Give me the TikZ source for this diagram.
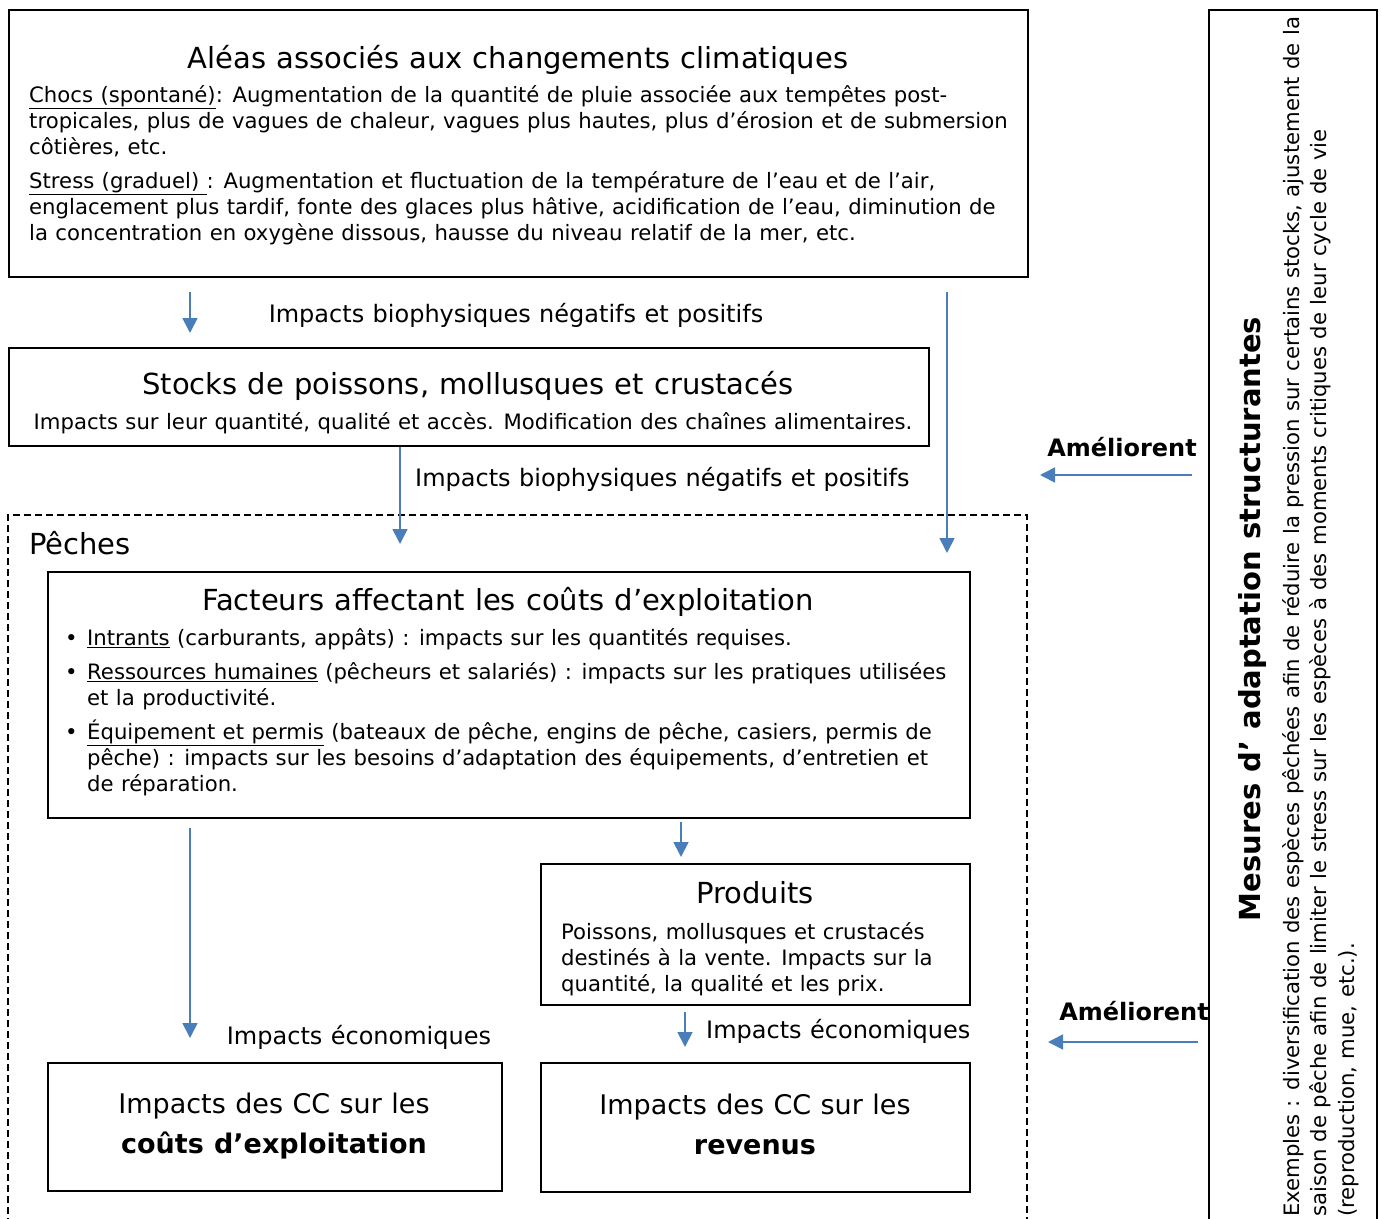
\documentclass[tikz,border=0pt]{standalone}
\usepackage{fontspec}
\setmainfont[WordSpace = 1.1]{DejaVu Sans}
\usetikzlibrary{arrows.meta}
\definecolor{flowblue}{RGB}{74,126,187}

\begin{document}
\begin{tikzpicture}[x = 1pt, y = -1pt,
                    box/.style = {draw, line width = 1.8pt, anchor = north west, inner sep = 0pt},
                    flow/.style = {draw = flowblue, line width = 1.7pt, -{Triangle[length = 15pt, width = 15pt]}},
                    boxtitle/.style = {font = \fontsize{29}{34}\selectfont, inner sep = 0pt, anchor = base},
                    boxtext/.style = {font = \fontsize{21.2}{26}\selectfont, inner sep = 0pt, align = left, anchor = north west},
                    flowlabel/.style = {font = \fontsize{24}{28}\selectfont, inner sep = 0pt, anchor = base},
                    impact/.style = {font = \fontsize{27}{40}\selectfont, inner sep = 0pt, align = center, anchor = north}]
      \useasboundingbox (0, 0) rectangle (1381, 1218);

      % boites
      \node [box, minimum width = 1019pt, minimum height = 267pt] (alea) at (8, 9){};
      \node [box, minimum width = 920pt, minimum height = 98pt] (stocks) at (8, 347){};
      \node [box, minimum width = 922pt, minimum height = 246pt] (facteurs) at (47, 571){};
      \node [box, minimum width = 429pt, minimum height = 141pt] (produits) at (540, 863){};
      \node [box, minimum width = 454pt, minimum height = 128pt] (couts) at (47, 1062){};
      \node [box, minimum width = 429pt, minimum height = 129pt] (revenus) at (540, 1062){};
      \node [box, minimum width = 168pt, minimum height = 1220pt] (mesures) at (1208, 9){};
      \draw [line width = 1.3pt, dash pattern = on 7pt off 4pt] (8, 1225) -- (8, 515) -- (1027, 515) -- (1027, 1225);

      % textes
      \node [boxtitle] (aleaT) at (518, 68){Aléas associés aux changements climatiques};
      \node [boxtext] (aleaB) at (29, 83.8){\strut\underline{Chocs (spontané)}: Augmentation de la quantité de pluie associée aux tempêtes post-\\
        tropicales, plus de vagues de chaleur, vagues plus hautes, plus d’érosion et de submersion\\
        côtières, etc.\\[8pt]
        \underline{Stress (graduel) }: Augmentation et fluctuation de la température de l’eau et de l’air,\\
        englacement plus tardif, fonte des glaces plus hâtive, acidification de l’eau, diminution de\\
        la concentration en oxygène dissous, hausse du niveau relatif de la mer, etc.};
      \node [boxtitle] (stocksT) at (468, 394){Stocks de poissons, mollusques et crustacés};
      \node [boxtext, anchor = base] (stocksB) at (473, 429){Impacts sur leur quantité, qualité et accès. Modification des chaînes alimentaires.};
      \node [boxtitle, anchor = base west] (peches) at (29, 554){Pêches};
      \node [boxtitle] (facteursT) at (508, 610){Facteurs affectant les coûts d’exploitation};
      \node [boxtext] (facteursB) at (65, 626.8){\strut\makebox[22pt][l]{•}\underline{Intrants} (carburants, appâts) : impacts sur les quantités requises.\\[8pt]
        \makebox[22pt][l]{•}\underline{Ressources humaines} (pêcheurs et salariés) : impacts sur les pratiques utilisées\\
        \hspace*{22pt}et la productivité.\\[8pt]
        \makebox[22pt][l]{•}\underline{Équipement et permis} (bateaux de pêche, engins de pêche, casiers, permis de\\
        \hspace*{22pt}pêche) : impacts sur les besoins d’adaptation des équipements, d’entretien et\\
        \hspace*{22pt}de réparation.};
      \node [boxtitle] (produitsT) at (755, 903){Produits};
      \node [boxtext] (produitsB) at (561, 920.8){\strut Poissons, mollusques et crustacés\\
        destinés à la vente. Impacts sur la\\
        quantité, la qualité et les prix.};
      \node [impact] (coutsT) at (274, 1085){\strut Impacts des CC sur les\\ \textbf{coûts d’exploitation}};
      \node [impact] (revenusT) at (755, 1086){\strut Impacts des CC sur les\\ \textbf{revenus}};
      \node [boxtitle, font = \fontsize{29}{34}\selectfont\bfseries, rotate = 90] (mesuresT) at (1260, 619){Mesures d’ adaptation structurantes};
      \node [boxtext, font = \fontsize{21.2}{27.5}\selectfont, rotate = 90] (mesuresB) at (1280, 1217){\strut Exemples : diversification des espèces pêchées afin de réduire la pression sur certains stocks, ajustement de la\\
        saison de pêche afin de limiter le stress sur les espèces à des moments critiques de leur cycle de vie\\
        (reproduction, mue, etc.).};

      % etiquettes des fleches
      \node [flowlabel] (bio1) at (516, 322){Impacts biophysiques négatifs et positifs};
      \node [flowlabel, anchor = base west] (bio2) at (415, 486){Impacts biophysiques négatifs et positifs};
      \node [flowlabel] (eco1) at (359, 1044){Impacts économiques};
      \node [flowlabel, anchor = base west] (eco2) at (706, 1038){Impacts économiques};
      \node [flowlabel, font = \fontsize{24}{28}\selectfont\bfseries] (amel1T) at (1122, 456){Améliorent};
      \node [flowlabel, font = \fontsize{24}{28}\selectfont\bfseries] (amel2T) at (1134, 1020){Améliorent};

      % fleches
      \coordinate (xa) at (190, 0);
      \coordinate (xb) at (947, 0);
      \coordinate (xc) at (400, 0);
      \coordinate (xd) at (681, 0);
      \coordinate (xe) at (685, 0);
      \coordinate (amel1) at (1040, 475);
      \coordinate (amel2) at (1048, 1042);
      \draw [flow, shorten <= 14pt, shorten >= 14pt] (alea.south -| xa) -- (stocks.north -| xa);
      \draw [flow, shorten <= 14pt, shorten >= 18pt] (alea.south -| xb) -- (facteurs.north -| xb);
      \draw [flow, shorten >= 27pt] (stocks.south -| xc) -- (facteurs.north -| xc);
      \draw [flow, shorten <= 9pt, shorten >= 24pt] (facteurs.south -| xa) -- (couts.north -| xa);
      \draw [flow, shorten <= 3pt, shorten >= 6pt] (facteurs.south -| xd) -- (produits.north -| xd);
      \draw [flow, shorten <= 6pt, shorten >= 15pt] (produits.south -| xe) -- (revenus.north -| xe);
      \draw [flow, shorten <= 16pt] (mesures.west |- amel1) -- (amel1);
      \draw [flow, shorten <= 10pt] (mesures.west |- amel2) -- (amel2);
    \end{tikzpicture}
\end{document}
